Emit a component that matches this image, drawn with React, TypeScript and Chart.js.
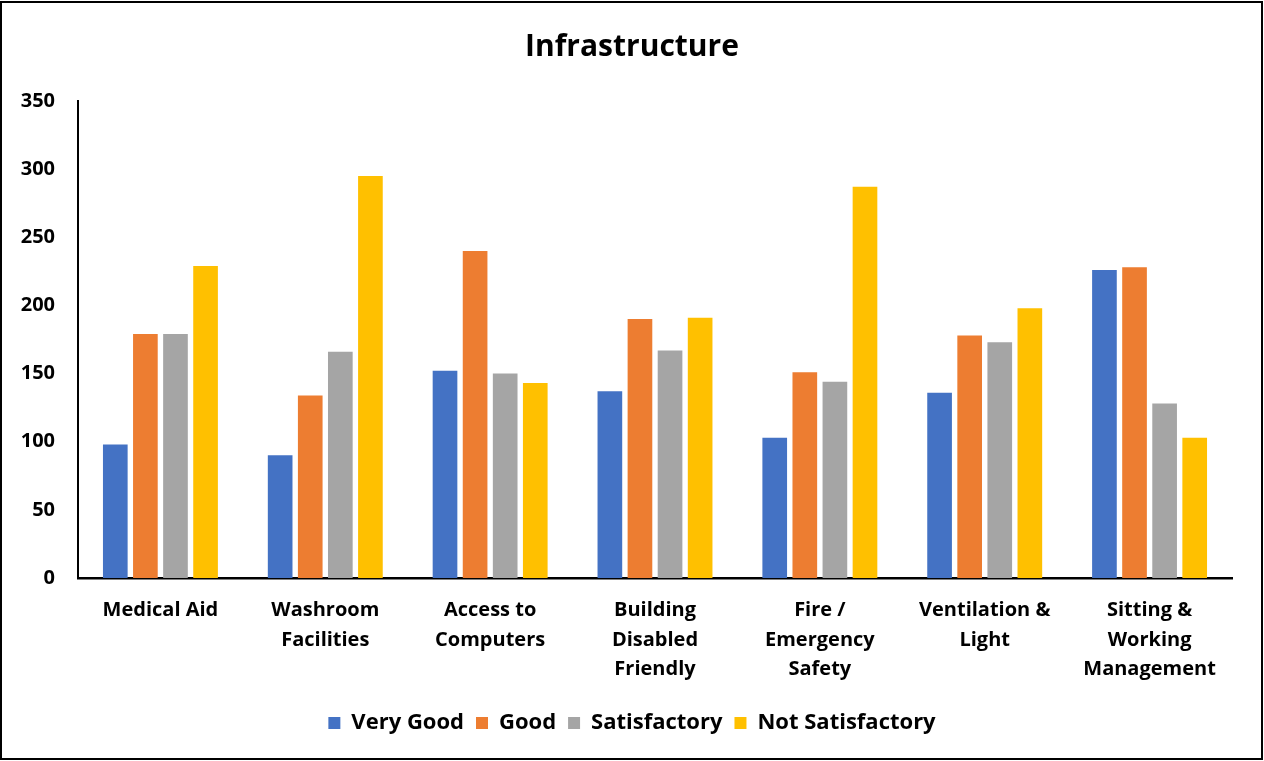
import React, { useEffect, useRef } from "react";
import { Chart, registerables } from "chart.js";

Chart.register(...registerables);

const categories: string[][] = [
  ["Medical Aid"],
  ["Washroom", "Facilities"],
  ["Access to", "Computers"],
  ["Building", "Disabled", "Friendly"],
  ["Fire /", "Emergency", "Safety"],
  ["Ventilation &", "Light"],
  ["Sitting &", "Working", "Management"],
];

const seriesNames = ["Very Good", "Good", "Satisfactory", "Not Satisfactory"];
const veryGood = [98, 90, 152, 137, 103, 136, 226];
const good = [179, 134, 240, 190, 151, 178, 228];
const satisfactory = [179, 166, 150, 167, 144, 173, 128];
const notSatisfactory = [229, 295, 143, 191, 287, 198, 103];
const colors = ["#4472C4", "#ED7D31", "#A5A5A5", "#FFC000"];

const FONT = "'Open Sans', 'Noto Sans', sans-serif";

const borderPlugin = {
  id: "outerBorder",
  afterDraw(chart: any) {
    const ctx = chart.ctx;
    ctx.save();
    ctx.strokeStyle = "#000";
    ctx.lineWidth = 2;
    ctx.strokeRect(1, 2, 1261, 757);
    ctx.restore();
  },
};

export default function App() {
  const ref = useRef<HTMLCanvasElement | null>(null);

  useEffect(() => {
    if (!ref.current) return;
    const values = [veryGood, good, satisfactory, notSatisfactory];
    const chart = new Chart(ref.current, {
      type: "bar",
      data: {
        labels: categories,
        datasets: seriesNames.map((name, i) => ({
          label: name,
          data: values[i],
          backgroundColor: colors[i],
          borderWidth: 0,
          categoryPercentage: 0.73,
          barPercentage: 0.82,
        })),
      },
      options: {
        responsive: false,
        animation: false,
        layout: { padding: { left: 0, right: 0, top: 0, bottom: 17 } },
        plugins: {
          title: {
            display: true,
            text: "Infrastructure",
            color: "#000",
            font: { family: FONT, size: 30, weight: "bold", lineHeight: 1.2 },
            padding: { top: 29, bottom: 36 },
          },
          legend: {
            position: "bottom",
            labels: {
              boxWidth: 12,
              boxHeight: 12,
              padding: 12,
              color: "#000",
              font: { family: FONT, size: 22, weight: "bold" },
            },
          },
          tooltip: { enabled: false },
        },
        scales: {
          x: {
            grid: { display: false, drawTicks: false },
            border: { display: true, color: "#000", width: 2.5 },
            ticks: {
              color: "#000",
              padding: 18,
              maxRotation: 0,
              autoSkip: false,
              font: { family: FONT, size: 20, weight: "bold", lineHeight: 1.475 },
            },
            afterFit(scale: any) {
              scale.height = 122;
            },
          },
          y: {
            min: 0,
            max: 350,
            grid: { display: false, drawTicks: false },
            border: { display: true, color: "#000", width: 2 },
            ticks: {
              stepSize: 50,
              color: "#000",
              padding: 23,
              font: { family: FONT, size: 20, weight: "bold" },
            },
            afterFit(scale: any) {
              scale.width = 78;
            },
          },
          yRight: {
            position: "right",
            min: 0,
            max: 350,
            display: true,
            grid: { display: false, drawTicks: false },
            border: { display: false },
            ticks: { display: false },
            afterFit(scale: any) {
              scale.width = 32;
            },
          },
        },
      },
      plugins: [borderPlugin],
    });
    return () => chart.destroy();
  }, []);

  return (
    <div style={{ position: "absolute", left: 0, top: 0, width: 1264, height: 761, background: "#fff" }}>
      <canvas ref={ref} width={1264} height={761} />
    </div>
  );
}
